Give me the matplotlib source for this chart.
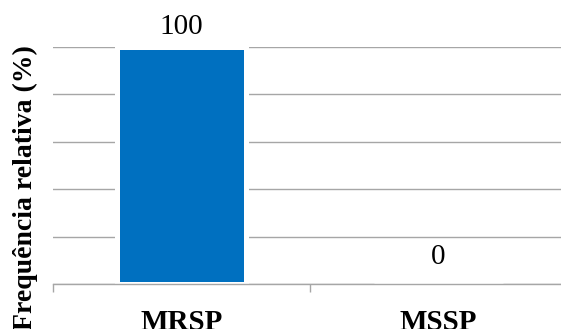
import matplotlib
matplotlib.use("Agg")
import matplotlib.pyplot as plt
from matplotlib.ticker import FixedLocator, MultipleLocator

# Data
categories = ["MRSP", "MSSP"]
values = [100, 0]
ylabel = "Frequência relativa (%)"

plt.rcParams["font.family"] = ["Liberation Serif", "DejaVu Serif"]

W, H = 561, 329
fig = plt.figure(figsize=(W / 100, H / 100), dpi=100)
ax = fig.add_axes([53 / W, 1 - 284.3 / H, (567 - 53) / W, (284.3 - 46.7) / H])

x = list(range(len(categories)))
bars = ax.bar(x, values, width=0.5, color="#0070C0", edgecolor="white",
              linewidth=3.6, zorder=2)

ax.set_xlim(-0.5, len(categories) - 0.5)
ax.set_ylim(0, 100)

# Horizontal gridlines, no y tick labels
ax.yaxis.set_major_locator(MultipleLocator(20))
ax.tick_params(axis="y", left=False, labelleft=False)
ax.grid(axis="y", color="#a6a6a6", linewidth=1.0, zorder=0)
ax.set_axisbelow(True)

for side in ("left", "right", "top"):
    ax.spines[side].set_visible(False)
ax.spines["bottom"].set_color("#a6a6a6")
ax.spines["bottom"].set_linewidth(1.0)
ax.spines["bottom"].set_zorder(3)

# Tick marks between categories; labels at category centres
ax.xaxis.set_major_locator(FixedLocator([i - 0.5 for i in range(len(categories) + 1)]))
ax.tick_params(axis="x", which="major", direction="out", length=6,
               color="#a6a6a6", width=1.0, labelbottom=False)
ax.xaxis.set_minor_locator(FixedLocator(x))
ax.set_xticklabels(categories, minor=True)
ax.tick_params(axis="x", which="minor", length=0, pad=17.5, labelsize=21)
for lbl in ax.get_xticklabels(minor=True):
    lbl.set_fontweight("bold")

# Value labels
offsets = [20, 27]
for xi, v, off in zip(x, values, offsets):
    ax.annotate(f"{v}", (xi, v), xytext=(0, off * 72 / 100), textcoords="offset points",
                ha="center", va="center", fontsize=21, annotation_clip=False)

fig.text(25 / W, 1 - 188 / H, ylabel, rotation=90, ha="center", va="center",
         fontsize=20, fontweight="bold")

fig.savefig("out.png", dpi=100)
